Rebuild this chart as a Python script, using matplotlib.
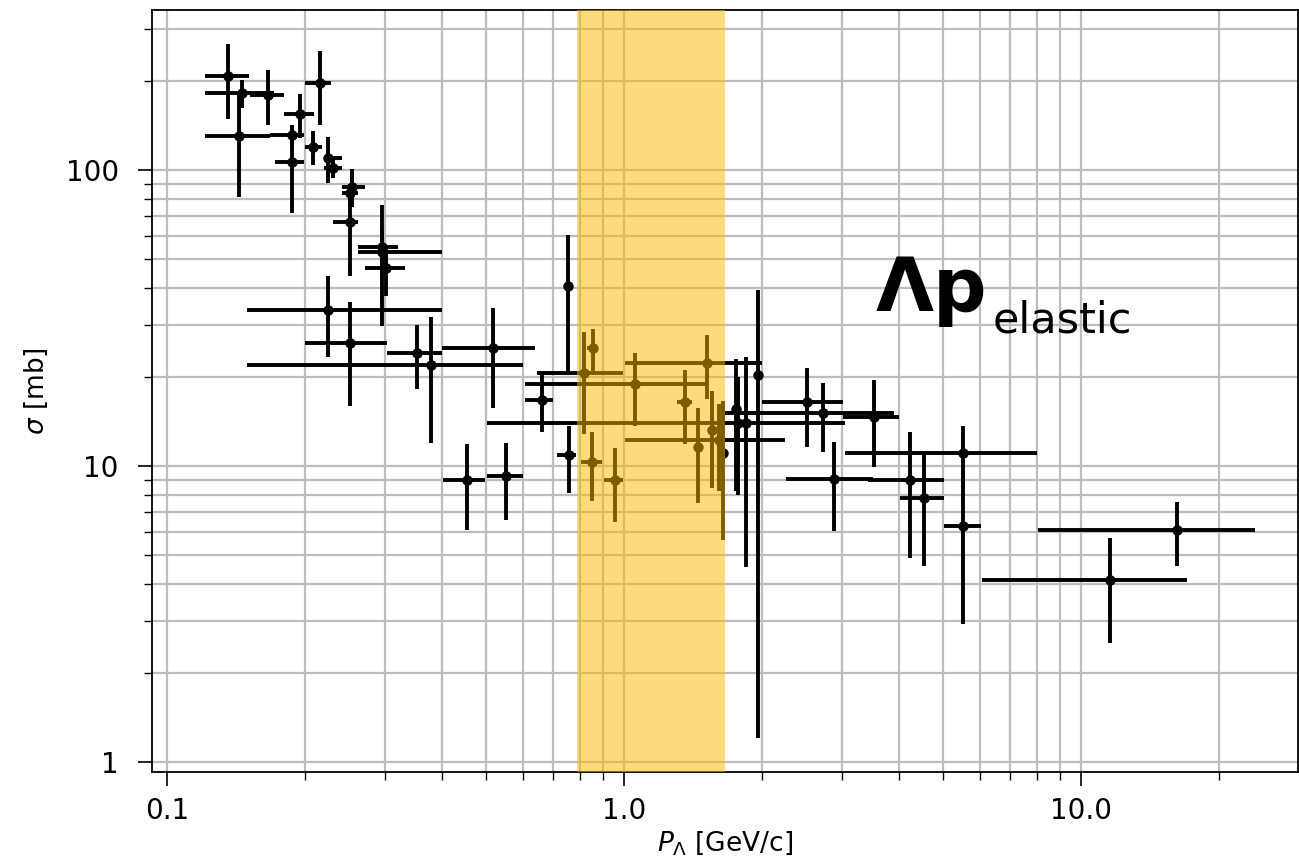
import numpy as np
import matplotlib
matplotlib.use("Agg")
import matplotlib.pyplot as plt
from matplotlib.ticker import FixedLocator, FixedFormatter, NullFormatter, LogLocator

plt.rcParams['font.family'] = ['DejaVu Sans']
plt.rcParams['mathtext.fontset'] = 'dejavusans'

# Lambda-p elastic cross sections: momentum bin centre and edges [GeV/c],
# cross section and its uncertainty [mb]
p_lambda = [0.136, 0.146, 0.166, 0.216, 0.195, 0.144, 0.188, 0.188, 0.209, 0.225,
            0.231, 0.254, 0.251, 0.251, 0.295, 0.295, 0.302, 0.225, 0.251, 0.352,
            0.379, 0.518, 0.453, 0.552, 0.755, 0.661, 0.819, 0.759, 0.857, 0.850,
            0.956, 1.057, 1.517, 1.36, 1.454, 1.556, 1.614, 1.65, 1.762, 1.779,
            1.848, 1.967, 2.51, 2.72, 3.53, 2.88, 4.22, 4.53, 5.53, 5.53,
            11.6, 16.2]
p_low = [0.121, 0.121, 0.152, 0.200, 0.180, 0.121, 0.168, 0.172, 0.200, 0.220,
         0.221, 0.241, 0.241, 0.231, 0.262, 0.262, 0.271, 0.150, 0.200, 0.303,
         0.150, 0.399, 0.402, 0.502, 0.755, 0.607, 0.644, 0.713, 0.829, 0.805,
         0.906, 0.607, 1.005, 1.304, 1.42, 1.53, 1.005, 1.62, 1.73, 0.501,
         1.81, 1.967, 2.00, 1.663, 3.02, 2.262, 3.42, 4.01, 3.04, 5.02,
         6.07, 8.05]
p_high = [0.151, 0.171, 0.180, 0.229, 0.210, 0.168, 0.199, 0.199, 0.218, 0.241,
          0.241, 0.271, 0.262, 0.262, 0.321, 0.399, 0.332, 0.399, 0.303, 0.399,
          0.602, 0.639, 0.497, 0.602, 0.755, 0.700, 0.997, 0.785, 0.879, 0.894,
          0.997, 1.517, 2.00, 1.406, 1.49, 1.58, 2.25, 1.68, 1.79, 3.05,
          1.89, 1.967, 3.02, 3.907, 4.00, 3.50, 5.02, 5.02, 8.00, 6.05,
          17.04, 24.0]
sigma = [208, 183, 180, 198, 155, 131, 132, 107, 120, 110,
         102, 88, 84, 67, 55, 53, 46.7, 33.7, 26.0, 24.1,
         22.0, 25.0, 8.97, 9.25, 40.6, 16.7, 20.6, 10.9, 25.0, 10.3,
         8.97, 18.9, 22.3, 16.5, 11.6, 13.2, 12.2, 11.1, 15.6, 13.95,
         13.95, 20.3, 16.5, 15.1, 14.7, 9.02, 8.97, 7.78, 11.04, 6.27,
         4.11, 6.07]
sigma_err = [59, 20, 38, 56, 26, 50, 10, 35, 15.5, 19.5,
             8, 13, 6, 23, 8, 23.3, 9, 10.3, 10, 5.9,
             10, 9.3, 2.9, 2.7, 20, 3.7, 7.8, 2.8, 4, 2.7,
             2.5, 5.2, 5.4, 4.6, 4.1, 4.8, 4, 5.5, 7.4, 6,
             9.4, 19.1, 4.9, 3.95, 4.8, 3.0, 4.1, 3.2, 2.6, 3.35,
             1.6, 1.5]

# momentum window highlighted on top of the data
band_range = [0.79, 1.66]

x_ticks = [0.1, 1.0, 10.0]
x_tick_labels = ['0.1', '1.0', '10.0']
y_ticks = [1, 10, 100]
y_tick_labels = ['1', '10', '100']

x = np.array(p_lambda)
xlo = np.array(p_low)
xhi = np.array(p_high)
y = np.array(sigma)
dy = np.array(sigma_err)

fig = plt.figure(figsize=(12.99, 8.63), dpi=100)
ax = fig.add_axes([0.117, 0.1055, 0.882, 0.8829])

ax.set_xscale('log')
ax.set_yscale('log')
ax.set_xlim(0.0927, 29.8)
ax.set_ylim(0.922, 349)

ax.grid(True, which='both', color='#bdbdbd', linewidth=1.6, zorder=0)
ax.set_axisbelow(True)

ax.errorbar(x, y, xerr=[x - xlo, xhi - x], yerr=dy, fmt='o', color='black',
            markersize=6.5, elinewidth=2.8, capsize=0, zorder=2)

ax.axvspan(band_range[0], band_range[1], color='#FBB800', alpha=0.5,
           linewidth=0, zorder=3)

# reaction label: bold symbol with a smaller subscript
ax.text(3.55, 33.5, 'Λp', fontsize=54, fontweight='bold',
        ha='left', va='baseline', zorder=4)
ax.text(6.42, 28.2, 'elastic', fontsize=31,
        ha='left', va='baseline', zorder=4)

ax.xaxis.set_major_locator(FixedLocator(x_ticks))
ax.xaxis.set_major_formatter(FixedFormatter(x_tick_labels))
ax.xaxis.set_minor_locator(LogLocator(base=10, subs=np.arange(2, 10)))
ax.xaxis.set_minor_formatter(NullFormatter())
ax.yaxis.set_major_locator(FixedLocator(y_ticks))
ax.yaxis.set_major_formatter(FixedFormatter(y_tick_labels))
ax.yaxis.set_minor_locator(LogLocator(base=10, subs=np.arange(2, 10)))
ax.yaxis.set_minor_formatter(NullFormatter())

ax.tick_params(which='major', length=10, width=1.2, labelsize=20)
ax.tick_params(axis='x', which='major', pad=8)
ax.tick_params(axis='y', which='major', pad=14)
ax.tick_params(which='minor', length=6, width=1.0)
for s in ax.spines.values():
    s.set_linewidth(1.3)

ax.set_xlabel(r'$P_{\Lambda}$ [GeV/c]', fontsize=19, labelpad=3)
ax.set_ylabel(r'$\sigma$ [mb]', fontsize=19, labelpad=11)

fig.savefig('out.png', dpi=100)
